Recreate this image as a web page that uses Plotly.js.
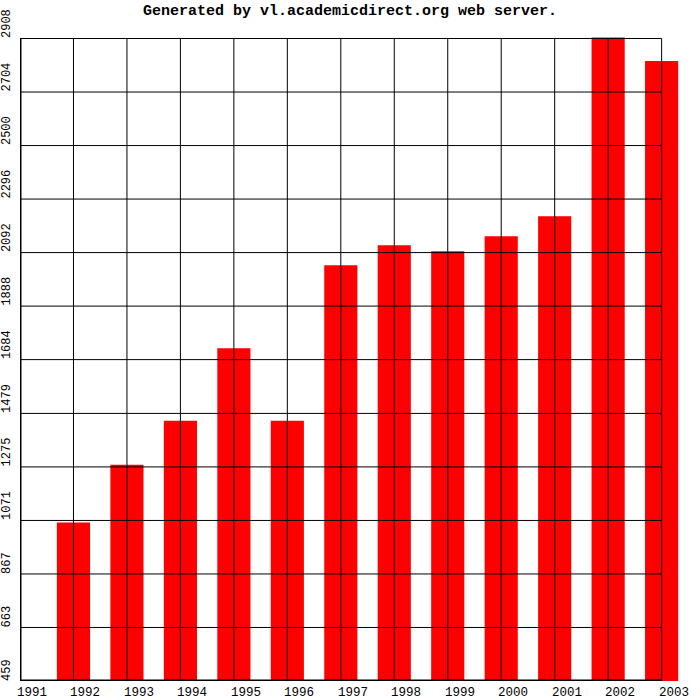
<!DOCTYPE html>
<html>
<head>
<meta charset="utf-8">
<script src="https://cdn.plot.ly/plotly-3.0.1.min.js"></script>
<style>html,body{margin:0;padding:0;background:#fff;}#chart{width:700px;height:700px;}</style>
</head>
<body>
<div id="chart"></div>
<script>
const years = [1991, 1992, 1993, 1994, 1995, 1996, 1997, 1998, 1999, 2000, 2001, 2002, 2003];
const values = [459, 1063, 1283, 1451, 1727, 1451, 2044, 2120, 2097, 2154, 2230, 2912, 2822];
const yTickVals = [459, 663, 867, 1071, 1275, 1479, 1684, 1888, 2092, 2296, 2500, 2704, 2908];
const yTickText = ['459', '663', '867', '1071', '1275', '1479', '1684', '1888', '2092', '2296', '2500', '2704', '2908'];
const xTickText = ['1991', '1992', '1993', '1994', '1995', '1996', '1997', '1998', '1999', '2000', '2001', '2002', '2003'];

const yMin = yTickVals[0];
const yMax = yTickVals[yTickVals.length - 1];
const xMin = years[0];
const xMax = years[years.length - 1];
const mono = 'Liberation Mono, DejaVu Sans Mono, monospace';

const shapes = [];
// vertical grid lines
years.forEach(function (yr) {
  shapes.push({type: 'line', xref: 'x', yref: 'y', x0: yr, x1: yr, y0: yMin, y1: yMax,
    line: {color: '#000', width: 1}, layer: 'above'});
});
// horizontal grid lines
yTickVals.forEach(function (v) {
  shapes.push({type: 'line', xref: 'x', yref: 'y', x0: xMin, x1: xMax, y0: v, y1: v,
    line: {color: '#000', width: 1}, layer: 'above'});
});
// thick axes
shapes.push({type: 'line', xref: 'x', yref: 'y', x0: xMin, x1: xMin, y0: yMin, y1: yMax,
  line: {color: '#000', width: 3}, layer: 'above'});
shapes.push({type: 'line', xref: 'x', yref: 'y', x0: xMin, x1: xMax, y0: yMin, y1: yMin,
  line: {color: '#000', width: 3}, layer: 'above'});

const annotations = [];
yTickVals.forEach(function (v, i) {
  annotations.push({xref: 'x', yref: 'y', x: xMin, y: v, text: yTickText[i], showarrow: false,
    textangle: -90, xanchor: 'center', yanchor: 'bottom', xshift: -13, yshift: -1,
    font: {family: mono, size: 12, color: '#000'}, borderpad: 0});
});
years.forEach(function (yr, i) {
  annotations.push({xref: 'x', yref: 'y', x: yr, y: yMin, text: xTickText[i], showarrow: false,
    xanchor: 'left', yanchor: 'top', xshift: -4, yshift: -4,
    font: {family: mono, size: 12.5, color: '#000'}, borderpad: 0});
});

const trace = {
  type: 'bar',
  x: years,
  y: values,
  width: 0.62,
  marker: {color: '#ff0000', line: {width: 0}},
  hoverinfo: 'x+y'
};

const layout = {
  width: 700,
  height: 700,
  margin: {l: 20, r: 17, t: 30, b: 19, pad: 0},
  paper_bgcolor: '#ffffff',
  plot_bgcolor: '#ffffff',
  showlegend: false,
  title: {
    text: '<b>Generated by vl.academicdirect.org web server.</b>',
    font: {family: mono, size: 15, color: '#000'},
    xref: 'container', yref: 'container', x: 0.5, y: 1 - 10 / 700,
    xanchor: 'center', yanchor: 'middle'
  },
  xaxis: {
    range: [xMin, xMax + 0.4],
    showgrid: false, zeroline: false, showline: false, showticklabels: false, ticks: '',
    fixedrange: true
  },
  yaxis: {
    range: [yMin, yMax + 32.4],
    showgrid: false, zeroline: false, showline: false, showticklabels: false, ticks: '',
    fixedrange: true
  },
  shapes: shapes,
  annotations: annotations
};

Plotly.newPlot('chart', [trace], layout, {displayModeBar: false, staticPlot: true});
</script>
</body>
</html>
